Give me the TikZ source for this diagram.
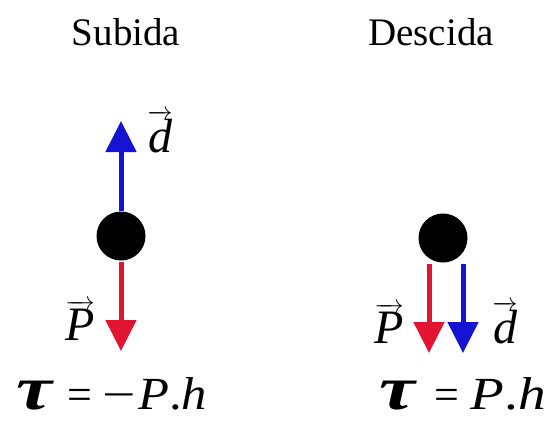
\documentclass[tikz,border=0pt]{standalone}
\usepackage{fontspec}
\usepackage{graphicx}
\setmainfont{Liberation Serif}
\usetikzlibrary{arrows.meta}
\definecolor{arred}{RGB}{225,20,50}
\definecolor{arblue}{RGB}{20,20,210}
\newcommand{\bigtau}{\scalebox{1.3}[1]{\fontsize{62}{62}\selectfont\bfseries\itshape τ}}
\newcommand{\longminus}{\scalebox{1.35}[1]{−}}
\newcommand{\wideph}[1]{\scalebox{#1}[1]{\fontsize{46}{50}\selectfont\textit{P}.\textit{h}}}
\begin{document}
\begin{tikzpicture}[x=1pt,y=-1pt,
  ball/.style={circle,fill=black,inner sep=0pt,minimum size=49pt},
  vecarrow/.style={line width=5pt,-{Triangle[width=30pt,length=31pt]}},
  redvec/.style={vecarrow,draw=arred},
  bluevec/.style={vecarrow,draw=arblue},
  heading/.style={font=\fontsize{39}{44}\selectfont,inner sep=0pt,anchor=base},
  veclabel/.style={font=\fontsize{48}{52}\selectfont\itshape,inner sep=0pt,anchor=base},
  eqlabel/.style={font=\fontsize{44}{48}\selectfont,inner sep=0pt,anchor=base west}]
\useasboundingbox (0,0) rectangle (551,421);
% headings
\node[heading] (hup) at (126,45) {Subida};
\node[heading] (hdown) at (431,45) {Descida};
% left: subida
\node[ball] (b1) at (121,236) {};
\coordinate (d1tip) at (121,121);
\coordinate (p1start) at (121,262);
\coordinate (p1tip) at (121,351);
\draw[bluevec] (b1.north) -- (d1tip);
\draw[redvec] (p1start) -- (p1tip);
\node[veclabel] (d1) at (160,152) {$\overrightarrow{\mbox{\itshape d}}$};
\node[veclabel] (p1) at (80,340) {$\overrightarrow{\mbox{\itshape P}}$};
\node[eqlabel] (eq1) at (16,409) {\bigtau\hspace{16pt}=\hspace{10pt}\longminus\hspace{2pt}\wideph{1.1}};
% right: descida
\node[ball] (b2) at (443,238) {};
\coordinate (p2start) at (429,264);
\coordinate (p2tip) at (429,353);
\coordinate (d2start) at (463,264);
\coordinate (d2tip) at (463,353);
\draw[redvec] (p2start) -- (p2tip);
\draw[bluevec] (d2start) -- (d2tip);
\node[veclabel] (p2) at (389,343) {$\overrightarrow{\mbox{\itshape P}}$};
\node[veclabel] (d2) at (505,343) {$\overrightarrow{\mbox{\itshape d}}$};
\node[eqlabel] (eq2) at (379,409) {\bigtau\hspace{20pt}=\hspace{11pt}\wideph{1.2}};
\end{tikzpicture}
\end{document}
